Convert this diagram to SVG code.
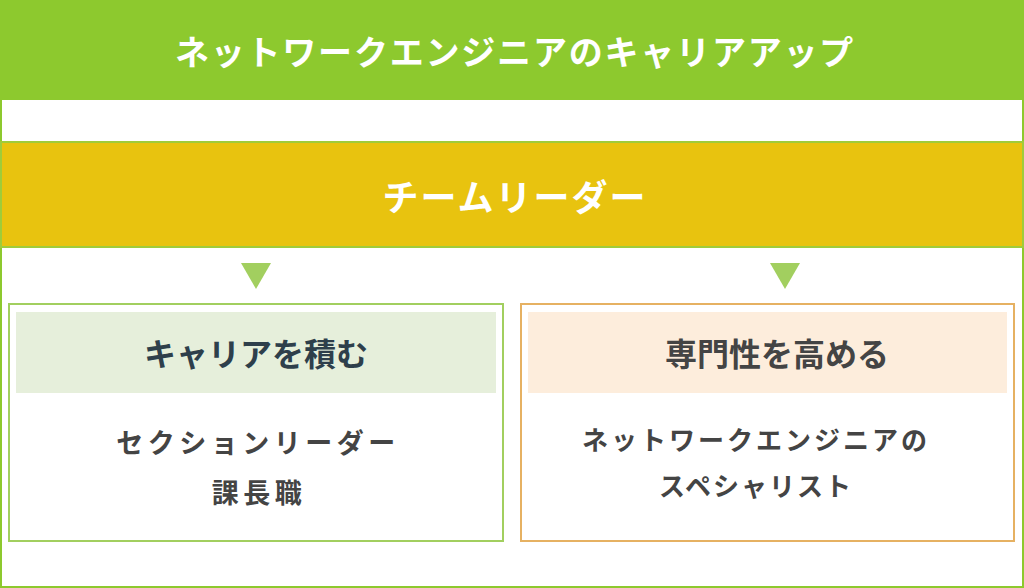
<svg xmlns="http://www.w3.org/2000/svg" width="1024" height="588" viewBox="0 0 1024 588">
<style>
.t{font-family:"Noto Sans CJK JP","Noto Sans",sans-serif;text-anchor:middle;dominant-baseline:central}
.w{fill:#ffffff;font-weight:700}
.h{font-size:32px;font-weight:700}
.b{font-weight:700;fill:#444444}
</style>
<defs>
<polygon id="tri" points="-15,0 15,0 0,26" fill="#a2cf5f"/>
</defs>
<rect x="1" y="1" width="1022" height="586" fill="#ffffff" stroke="#8dc92e" stroke-width="2"/>
<g id="title">
<rect x="0" y="0" width="1024" height="100" fill="#8dc92e"/>
<text class="t w" x="515" y="50" font-size="34" letter-spacing="1.8">ネットワークエンジニアのキャリアアップ</text>
</g>
<g id="leader">
<rect x="1" y="142" width="1022" height="105" fill="#e8c30f" stroke="#9fcc3a" stroke-width="2"/>
<text class="t w" x="515" y="195" font-size="36" letter-spacing="2">チームリーダー</text>
</g>
<g id="connectors">
<use href="#tri" x="256" y="263"/>
<use href="#tri" x="785" y="263"/>
</g>
<g id="career">
<rect x="9" y="304" width="494" height="237" fill="#ffffff" stroke="#a2cf5f" stroke-width="2"/>
<rect x="16" y="312" width="480" height="81" fill="#e6efdb"/>
<text class="t h" x="256" y="352" fill="#2e3f4b">キャリアを積む</text>
<text class="t b" x="258" y="441" font-size="27" letter-spacing="4.5">セクションリーダー</text>
<text class="t b" x="259" y="491" font-size="27" letter-spacing="4.5">課長職</text>
</g>
<g id="specialist">
<rect x="521" y="304" width="493" height="237" fill="#ffffff" stroke="#e6b162" stroke-width="2"/>
<rect x="528" y="312" width="479" height="81" fill="#fdeddc"/>
<text class="t h" x="777" y="352" fill="#444444">専門性を高める</text>
<text class="t b" x="756" y="438" font-size="26" letter-spacing="3">ネットワークエンジニアの</text>
<text class="t b" x="756" y="484" font-size="26" letter-spacing="2">スペシャリスト</text>
</g>
</svg>
